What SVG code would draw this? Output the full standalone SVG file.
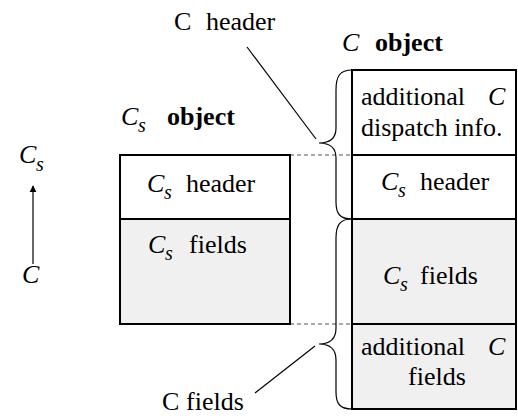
<svg xmlns="http://www.w3.org/2000/svg" width="518" height="418" viewBox="0 0 518 418">
<defs>
<marker id="ah" viewBox="0 0 10 10" refX="9" refY="5" markerWidth="7" markerHeight="11" orient="auto" markerUnits="userSpaceOnUse">
<path d="M0,0 L10,5 L0,10 z" fill="#000"/>
</marker>
</defs>
<rect width="518" height="418" fill="#fff"/>

<g id="connectors" fill="none" stroke="#000" stroke-width="1.2">
<line x1="33" y1="264" x2="33" y2="186" marker-end="url(#ah)"/>
<line x1="290" y1="155" x2="352" y2="155" stroke="#555" stroke-dasharray="4,3"/>
<line x1="290" y1="324" x2="352" y2="324" stroke="#555" stroke-dasharray="4,3"/>
<path d="M352,70 C340,70 336,76 336,90 L336,128 C336,138 330,143 319,143 C330,143 336,148 336,158 L336,202 C336,214 340,219 352,219"/>
<path d="M352,219 C340,219 336,225 336,238 L336,328 C336,339 330,344 319,344 C330,344 336,349 336,360 L336,392 C336,404 340,409 352,409"/>
<line x1="247" y1="47" x2="316" y2="139"/>
<line x1="315" y1="346" x2="255" y2="393"/>
</g>

<g id="axis-labels">
<text font-family="Times New Roman, Liberation Serif, serif" font-size="26" font-style="italic" x="19" y="163">C</text>
<text font-family="Times New Roman, Liberation Serif, serif" font-size="20" font-style="italic" x="36" y="171">s</text>
<text font-family="Times New Roman, Liberation Serif, serif" font-size="26" font-style="italic" x="22" y="283">C</text>
</g>

<g id="callout-labels">
<text font-family="Times New Roman, Liberation Serif, serif" font-size="26" x="174" y="30">C</text>
<text font-family="Times New Roman, Liberation Serif, serif" font-size="26" x="206" y="30">header</text>
<text font-family="Times New Roman, Liberation Serif, serif" font-size="26" x="162" y="410">C</text>
<text font-family="Times New Roman, Liberation Serif, serif" font-size="26" x="186" y="410">fields</text>
</g>

<g id="cs-object">
<text font-family="Times New Roman, Liberation Serif, serif" font-size="26" font-style="italic" x="121" y="125">C</text>
<text font-family="Times New Roman, Liberation Serif, serif" font-size="20" font-style="italic" x="138" y="132">s</text>
<text font-family="Times New Roman, Liberation Serif, serif" font-size="26" font-weight="bold" x="167" y="125">object</text>
<g id="cs-header">
<rect x="120" y="155" width="170" height="64" fill="#fff" stroke="#000" stroke-width="2"/>
<text font-family="Times New Roman, Liberation Serif, serif" font-size="26" font-style="italic" x="147" y="192">C</text>
<text font-family="Times New Roman, Liberation Serif, serif" font-size="20" font-style="italic" x="164" y="199">s</text>
<text font-family="Times New Roman, Liberation Serif, serif" font-size="26" x="186" y="192">header</text>
</g>
<g id="cs-fields">
<rect x="120" y="219" width="170" height="105" fill="#f0f0f0" stroke="#000" stroke-width="2"/>
<text font-family="Times New Roman, Liberation Serif, serif" font-size="26" font-style="italic" x="148" y="253">C</text>
<text font-family="Times New Roman, Liberation Serif, serif" font-size="20" font-style="italic" x="165" y="260">s</text>
<text font-family="Times New Roman, Liberation Serif, serif" font-size="26" x="189" y="253">fields</text>
</g>
</g>

<g id="c-object">
<text font-family="Times New Roman, Liberation Serif, serif" font-size="26" font-style="italic" x="342" y="51">C</text>
<text font-family="Times New Roman, Liberation Serif, serif" font-size="26" font-weight="bold" x="375" y="51">object</text>
<g id="c-dispatch">
<rect x="352" y="70" width="164" height="85" fill="#fff" stroke="#000" stroke-width="2"/>
<text font-family="Times New Roman, Liberation Serif, serif" font-size="26" x="361" y="105">additional</text>
<text font-family="Times New Roman, Liberation Serif, serif" font-size="26" font-style="italic" x="488" y="105">C</text>
<text font-family="Times New Roman, Liberation Serif, serif" font-size="26" x="361" y="136">dispatch info.</text>
</g>
<g id="c-cs-header">
<rect x="352" y="155" width="164" height="64" fill="#fff" stroke="#000" stroke-width="2"/>
<text font-family="Times New Roman, Liberation Serif, serif" font-size="26" font-style="italic" x="381" y="190">C</text>
<text font-family="Times New Roman, Liberation Serif, serif" font-size="20" font-style="italic" x="398" y="197">s</text>
<text font-family="Times New Roman, Liberation Serif, serif" font-size="26" x="420" y="190">header</text>
</g>
<g id="c-cs-fields">
<rect x="352" y="219" width="164" height="105" fill="#f0f0f0" stroke="#000" stroke-width="2"/>
<text font-family="Times New Roman, Liberation Serif, serif" font-size="26" font-style="italic" x="383" y="284">C</text>
<text font-family="Times New Roman, Liberation Serif, serif" font-size="20" font-style="italic" x="400" y="291">s</text>
<text font-family="Times New Roman, Liberation Serif, serif" font-size="26" x="420" y="284">fields</text>
</g>
<g id="c-add-fields">
<rect x="352" y="324" width="164" height="85" fill="#f0f0f0" stroke="#000" stroke-width="2"/>
<text font-family="Times New Roman, Liberation Serif, serif" font-size="26" x="361" y="355">additional</text>
<text font-family="Times New Roman, Liberation Serif, serif" font-size="26" font-style="italic" x="488" y="355">C</text>
<text font-family="Times New Roman, Liberation Serif, serif" font-size="26" x="408" y="385">fields</text>
</g>
</g>
</svg>
